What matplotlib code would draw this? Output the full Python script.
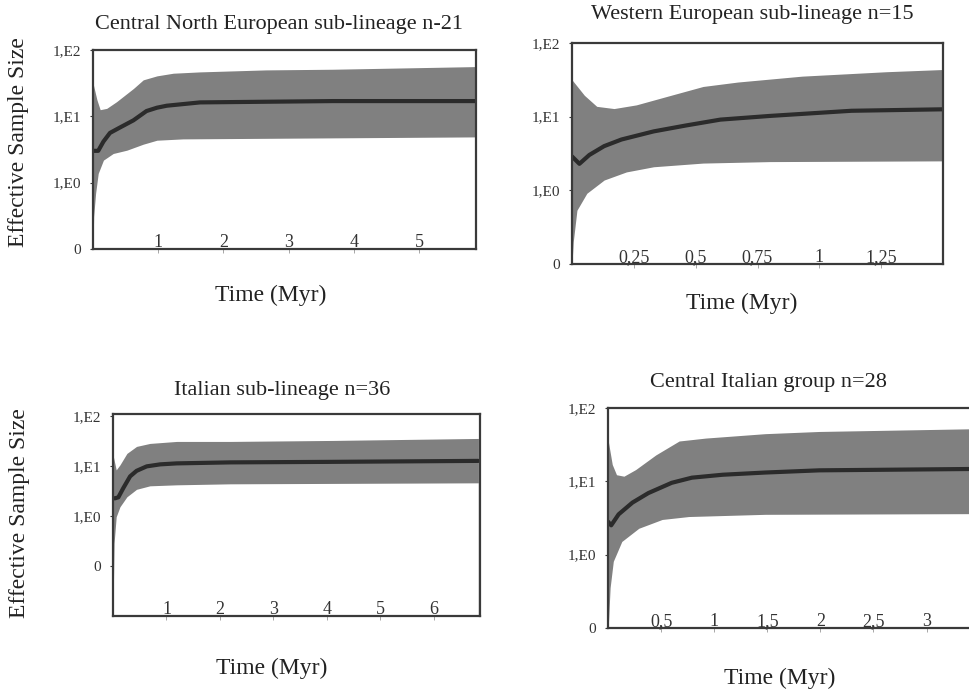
import matplotlib
matplotlib.use("Agg")
import matplotlib.pyplot as plt
import numpy as np

plt.rcParams['font.family'] = ['Liberation Serif', 'DejaVu Serif']

W, H = 970, 692

# ---------------- data (time in Myr, y in decade units: 0, 1,E0, 1,E1, 1,E2) ----------------
# Panel 1: Central North European sub-lineage
p1_med_t = [0, 0.08, 0.16, 0.26, 0.41, 0.62, 0.82, 0.98, 1.13, 1.64, 2.65, 3.68, 5.87]
p1_med_y = [1.48, 1.48, 1.62, 1.75, 1.83, 1.94, 2.08, 2.13, 2.16, 2.21, 2.22, 2.23, 2.23]
p1_up_t = [0, 0.06, 0.11, 0.21, 0.36, 0.62, 0.77, 0.98, 1.23, 1.64, 2.65, 3.68, 5.87]
p1_up_y = [2.50, 2.25, 2.10, 2.12, 2.22, 2.42, 2.55, 2.61, 2.65, 2.67, 2.70, 2.71, 2.75]
p1_lo_t = [0, 0.01, 0.04, 0.08, 0.16, 0.31, 0.52, 0.77, 0.98, 1.38, 5.87]
p1_lo_y = [0.0, 0.49, 0.84, 1.14, 1.34, 1.44, 1.49, 1.58, 1.64, 1.66, 1.69]
p1_xticks = [1, 2, 3, 4, 5]
p1_xticklabels = ["1", "2", "3", "4", "5"]

# Panel 2: Western European sub-lineage
p2_med_t = [0, 0.03, 0.07, 0.13, 0.20, 0.33, 0.46, 0.60, 0.80, 1.13, 1.50]
p2_med_y = [1.46, 1.36, 1.48, 1.60, 1.69, 1.80, 1.88, 1.96, 2.01, 2.08, 2.10]
p2_up_t = [0, 0.05, 0.10, 0.17, 0.26, 0.40, 0.53, 0.67, 0.80, 0.93, 1.27, 1.50]
p2_up_y = [2.50, 2.29, 2.14, 2.11, 2.16, 2.29, 2.41, 2.47, 2.51, 2.55, 2.61, 2.64]
p2_lo_t = [0, 0.005, 0.02, 0.06, 0.13, 0.22, 0.33, 0.53, 0.80, 1.50]
p2_lo_y = [0.0, 0.30, 0.73, 0.96, 1.14, 1.25, 1.32, 1.37, 1.39, 1.40]
p2_xticks = [0.25, 0.5, 0.75, 1.0, 1.25]
p2_xticklabels = ["0,25", "0,5", "0,75", "1", "1,25"]

# Panel 3: Italian sub-lineage
p3_med_t = [0, 0.04, 0.10, 0.19, 0.32, 0.44, 0.63, 0.88, 1.19, 2.19, 4.0, 6.83]
p3_med_y = [1.36, 1.36, 1.38, 1.56, 1.80, 1.91, 2.00, 2.04, 2.06, 2.08, 2.09, 2.11]
p3_up_t = [0, 0.06, 0.13, 0.26, 0.44, 0.69, 1.19, 2.19, 4.12, 6.83]
p3_up_y = [2.23, 1.93, 2.03, 2.26, 2.40, 2.46, 2.50, 2.50, 2.52, 2.56]
p3_lo_t = [0, 0.02, 0.06, 0.13, 0.26, 0.44, 0.69, 1.19, 2.19, 6.83]
p3_lo_y = [-0.88, 0.46, 0.99, 1.19, 1.39, 1.54, 1.61, 1.63, 1.65, 1.67]
p3_drop_t = [6.84, 6.84]
p3_drop_y = [1.67, -1.0]
p3_xticks = [1, 2, 3, 4, 5, 6]
p3_xticklabels = ["1", "2", "3", "4", "5", "6"]

# Panel 4: Central Italian group
p4_med_t = [0, 0.03, 0.10, 0.23, 0.38, 0.60, 0.79, 1.08, 1.48, 1.99, 3.55]
p4_med_y = [1.45, 1.40, 1.55, 1.71, 1.84, 1.98, 2.05, 2.09, 2.12, 2.15, 2.17]
p4_up_t = [0, 0.04, 0.08, 0.15, 0.26, 0.45, 0.67, 0.92, 1.48, 1.99, 3.55]
p4_up_y = [2.57, 2.23, 2.09, 2.07, 2.16, 2.36, 2.55, 2.59, 2.65, 2.68, 2.72]
p4_lo_t = [0, 0.005, 0.02, 0.05, 0.13, 0.29, 0.51, 0.76, 1.48, 3.55]
p4_lo_y = [0.0, 0.09, 0.55, 0.91, 1.18, 1.36, 1.48, 1.52, 1.55, 1.56]
p4_xticks = [0.5, 1.0, 1.5, 2.0, 2.5, 3.0]
p4_xticklabels = ["0,5", "1", "1,5", "2", "2,5", "3"]

ytick_pos = [0, 1, 2, 3]
ytick_labels = ["0", "1,E0", "1,E1", "1,E2"]

titles = ["Central North European sub-lineage n-21",
          "Western European sub-lineage n=15",
          "Italian sub-lineage n=36",
          "Central Italian group n=28"]

BAND = "#808080"
LINE = "#2b2b2b"
SPINE = "#3a3a3a"
TXT = "#222222"

fig = plt.figure(figsize=(W / 100, H / 100), dpi=100)


def add_ax(l, t, r, b):
    return fig.add_axes([l / W, 1 - b / H, (r - l) / W, (b - t) / H])


def make_panel(ax, med_t, med_y, up_t, up_y, lo_t, lo_y, xticks, xtl, xlim, ylim):
    grid = np.union1d(np.union1d(up_t, lo_t), med_t)
    up = np.interp(grid, up_t, up_y)
    lo = np.interp(grid, lo_t, lo_y)
    ax.fill_between(grid, lo, up, color=BAND, linewidth=0, zorder=1)
    ax.plot(med_t, med_y, color=LINE, linewidth=3.0, solid_capstyle='round',
            solid_joinstyle='round', zorder=2)
    ax.set_xlim(*xlim)
    ax.set_ylim(*ylim)
    ax.set_yticks(ytick_pos)
    ax.set_yticklabels(ytick_labels)
    ax.set_xticks(xticks)
    ax.set_xticklabels(xtl)
    ax.tick_params(axis='x', direction='out', length=3, width=0.6, pad=-4.2,
                   labelsize=13, colors="#999999", labelcolor="#333333")
    for lab in ax.get_xticklabels():
        lab.set_verticalalignment('baseline')
    ax.tick_params(axis='y', direction='out', length=2.5, width=0.8, pad=6,
                   labelsize=11, colors=SPINE, labelcolor="#333333")
    for s in ax.spines.values():
        s.set_color(SPINE)
        s.set_linewidth(1.6)


ax1 = add_ax(93, 50, 476, 249)
make_panel(ax1, p1_med_t, p1_med_y, p1_up_t, p1_up_y, p1_lo_t, p1_lo_y,
           p1_xticks, p1_xticklabels, (0, 5.87), (0, 3))
ax2 = add_ax(572, 43, 943, 264)
make_panel(ax2, p2_med_t, p2_med_y, p2_up_t, p2_up_y, p2_lo_t, p2_lo_y,
           p2_xticks, p2_xticklabels, (0, 1.50), (0, 3))
ax3 = add_ax(113, 414, 480, 616)
make_panel(ax3, p3_med_t, p3_med_y, p3_up_t, p3_up_y, p3_lo_t, p3_lo_y,
           p3_xticks, p3_xticklabels, (0, 6.86), (-1.0, 3.05))
ax3.plot(p3_drop_t, p3_drop_y, color="#8a8a8a", linewidth=1.0, zorder=1)
ax4 = add_ax(608, 408, 985, 628)
make_panel(ax4, p4_med_t, p4_med_y, p4_up_t, p4_up_y, p4_lo_t, p4_lo_y,
           p4_xticks, p4_xticklabels, (0, 3.55), (0, 3))


def ftext(x, y, s, **kw):
    fig.text(x / W, 1 - y / H, s, ha='center', va='center', color=TXT, **kw)


ftext(279, 25, titles[0], fontsize=16)
ftext(752, 15, titles[1], fontsize=16)
ftext(282, 390, titles[2], fontsize=16)
ftext(768, 383, titles[3], fontsize=16)

ftext(19, 142, "Effective Sample Size", fontsize=17, rotation=90)
ftext(20, 513, "Effective Sample Size", fontsize=17, rotation=90)

ftext(271, 295, "Time (Myr)", fontsize=17)
ftext(742, 303, "Time (Myr)", fontsize=17)
ftext(272, 668, "Time (Myr)", fontsize=17)
ftext(780, 678, "Time (Myr)", fontsize=17)

fig.savefig("out.png", dpi=100)
